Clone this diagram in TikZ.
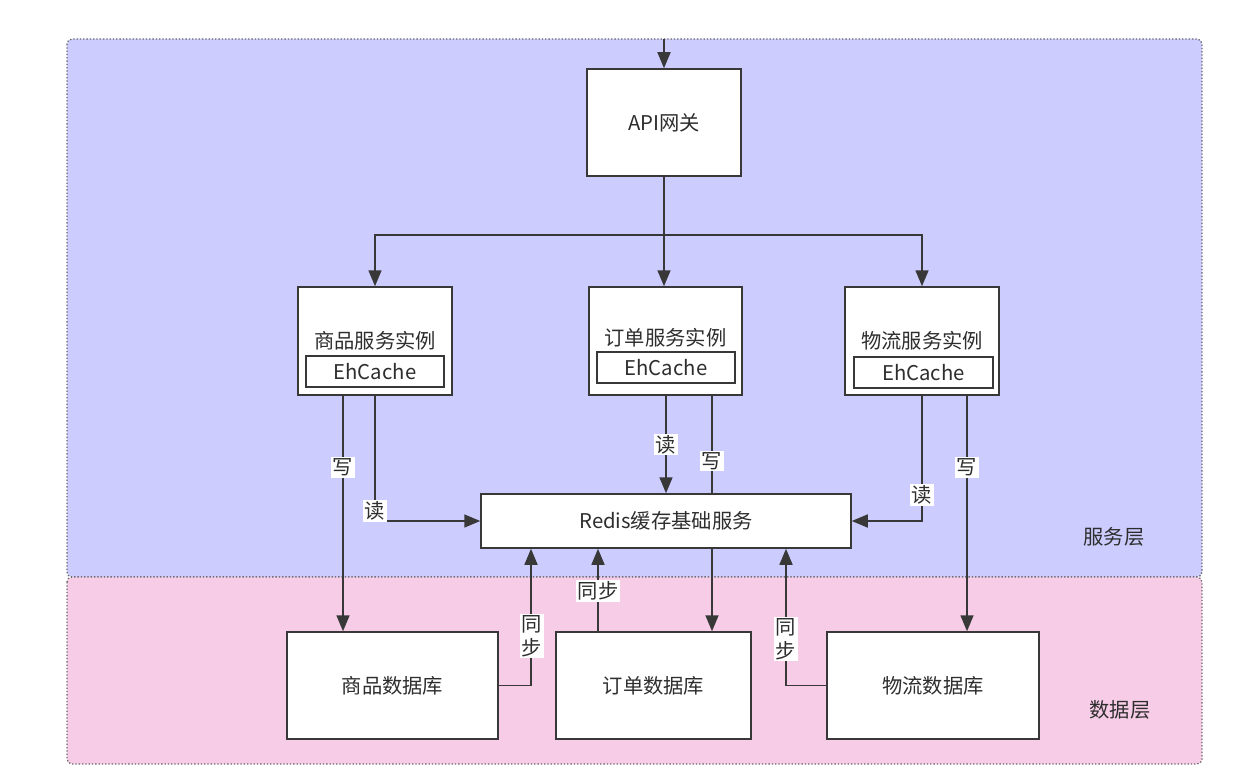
\documentclass[tikz,border=0pt]{standalone}
\usepackage{fontspec}
\setmainfont{Noto Sans CJK SC}
\usetikzlibrary{arrows.meta}
\definecolor{txt}{HTML}{2E2E2E}
\definecolor{ln}{HTML}{383838}
\definecolor{svcbg}{HTML}{CCCCFF}
\definecolor{databg}{HTML}{F7CCE6}
\definecolor{brd}{HTML}{666666}
\tikzset{
  box/.style={draw=ln, line width=1.5pt, fill=white, text=txt, inner sep=0pt},
  inner/.style={draw=ln, line width=1.2pt, fill=white, text=txt, inner sep=0pt, minimum height=31pt},
  conn/.style={draw=ln, line width=1.6pt},
  arr/.style={conn, -{Triangle[length=16pt,width=13pt]}},
  lbl/.style={fill=white, text=txt, inner sep=1.5pt, font=\fontsize{20.3}{24}\selectfont, align=center},
  layer/.style={draw=brd, line width=1.3pt, dotted, rounded corners=5pt},
  ttl/.style={text=txt, font=\fontsize{20.3}{24}\selectfont, inner sep=0pt}
}
\begin{document}
\begin{tikzpicture}[x=1pt,y=-1pt, font=\fontsize{20.3}{24}\selectfont]
\useasboundingbox (0,0) rectangle (1242,784);
% layers
\path[layer, fill=svcbg] (67,39) rectangle (1202,577);
\path[layer, fill=databg] (67,577) rectangle (1202,764);
\node[ttl] (svcl) at (1114,537) {服务层};
\node[ttl] (datal) at (1120,710) {数据层};

% API gateway
\node[box, minimum width=154pt, minimum height=107pt] (api) at (664,122.5) {API网关};
\coordinate (top) at (664,39);

% service instances
\node[box, minimum width=154pt, minimum height=108pt] (s1) at (375,341) {};
\node[ttl] (s1t) at (375,341) {商品服务实例};
\node[inner, minimum width=138pt] (s1c) at (375,371.5) {EhCache};

\node[box, minimum width=153pt, minimum height=108pt] (s2) at (665.5,341) {};
\node[ttl] (s2t) at (665.5,338) {订单服务实例};
\node[inner, minimum width=138pt] (s2c) at (666,367.5) {EhCache};

\node[box, minimum width=154pt, minimum height=108pt] (s3) at (922,341) {};
\node[ttl] (s3t) at (922,341) {物流服务实例};
\node[inner, minimum width=139pt] (s3c) at (923.5,372.5) {EhCache};

% redis
\node[box, minimum width=370pt, minimum height=54pt] (redis) at (666,521) {Redis缓存基础服务};

% databases
\node[box, minimum width=211pt, minimum height=107pt] (d1) at (392.5,685.5) {商品数据库};
\node[box, minimum width=195pt, minimum height=107pt] (d2) at (653.5,685.5) {订单数据库};
\node[box, minimum width=212pt, minimum height=107pt] (d3) at (933,685.5) {物流数据库};

% gateway connectors
\coordinate (j) at (664,235);
\draw[arr] (top) -- (api.north);
\draw[conn] (api.south) -- (j);
\draw[arr] (j) -| (s1.north);
\draw[arr] (j) -| (s3.north);
\draw[arr] (j) -- (j |- s2.north);

% 商品
\draw[arr] ([xshift=-32pt]s1.south) -- ([xshift=-32pt]s1.south |- d1.north)
  node[lbl, pos=0.305] (w1) {写};
\draw[arr] (s1.south) -- (s1.south |- redis.west) -- (redis.west);
\node[lbl] (r1) at (375,511) {读};

% 订单
\draw[arr] ([xshift=0.5pt]s2.south) -- ([xshift=0.5pt]s2.south |- redis.north)
  node[lbl, midway] (r2) {读};
\draw[conn] ([xshift=46.5pt]s2.south) -- ([xshift=46.5pt]s2.south |- redis.north)
  node[lbl, pos=0.67] (w2) {写};
\draw[arr] ([xshift=46pt]redis.south) -- ([xshift=46pt]redis.south |- d2.north);

% 物流
\draw[arr] (s3.south) -- (s3.south |- redis.east) -- (redis.east);
\node[lbl] (r3) at (922,495) {读};
\draw[arr] ([xshift=45pt]s3.south) -- ([xshift=45pt]s3.south |- d3.north)
  node[lbl, pos=0.305] (w3) {写};

% 同步
\draw[arr] (d1.east) -| ([xshift=-135pt]redis.south);
\node[lbl] (y1) at (532,636) {同\\步};
\draw[arr] ([xshift=-55.5pt]d2.north) -- ([xshift=-55.5pt]d2.north |- redis.south)
  node[lbl, pos=0.49] (y2) {同步};
\draw[arr] (d3.west) -| ([xshift=120pt]redis.south);
\node[lbl] (y3) at (786,639) {同\\步};
\end{tikzpicture}
\end{document}
